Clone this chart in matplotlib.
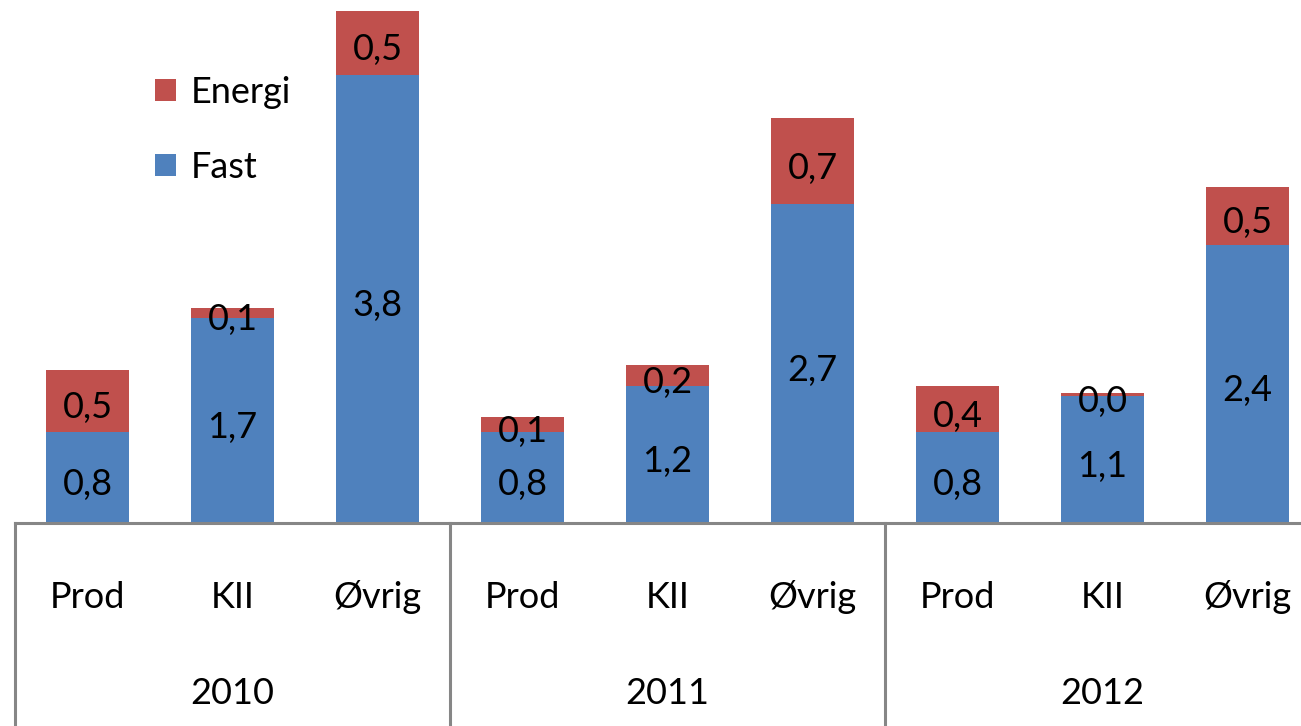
import matplotlib
matplotlib.use("Agg")
import matplotlib.pyplot as plt
import matplotlib.transforms as mtransforms
from matplotlib.patches import Patch

# ---- data ----
years = ["2010", "2011", "2012"]
categories = ["Prod", "KII", "Øvrig"]
fast = [0.77, 1.74, 3.80, 0.77, 1.16, 2.70, 0.77, 1.08, 2.36]
energi = [0.53, 0.08, 0.54, 0.13, 0.18, 0.73, 0.39, 0.025, 0.49]

blue = "#4F81BD"
red = "#C0504D"
axis_gray = "#868686"

plt.rcParams['font.family'] = ['Lato', 'DejaVu Sans']
FS = 26

W, H = 1301, 726
fig = plt.figure(figsize=(W / 100, H / 100), dpi=100)
left_px, base_px = 15, 523
ax = fig.add_axes([left_px / W, (H - base_px) / H, (W - left_px) / W, base_px / H])

slot_px = 145.0
n = len(fast)
x = list(range(n))
bw = 0.57
ax.bar(x, fast, width=bw, color=blue, zorder=2)
ax.bar(x, energi, width=bw, bottom=fast, color=red, zorder=2)

ax.set_xlim(-0.5, -0.5 + (W - left_px) / slot_px)
ax.set_ylim(0, base_px / 118.0)

def fmt(v):
    return f"{v:.1f}".replace(".", ",")

for i in range(n):
    ax.annotate(fmt(fast[i]), (x[i], fast[i] / 2), xytext=(0, -5), textcoords="offset points",
                ha="center", va="center", fontsize=FS, color="black", zorder=3)
    ax.annotate(fmt(energi[i]), (x[i], fast[i] + energi[i] / 2), xytext=(0, -5), textcoords="offset points",
                ha="center", va="center", fontsize=FS, color="black", zorder=3)

for s in ["top", "right", "left"]:
    ax.spines[s].set_visible(False)
ax.spines["bottom"].set_color(axis_gray)
ax.spines["bottom"].set_linewidth(2.2)
ax.set_xticks([])
ax.set_yticks([])

trans = mtransforms.blended_transform_factory(ax.transData, ax.transAxes)
ybottom = -(H - base_px) / base_px
for xv in [-0.5, 2.5, 5.5]:
    ax.plot([xv, xv], [0, ybottom], transform=trans, color=axis_gray, lw=2.2, clip_on=False)

ycat = -(597 - base_px) / base_px
yyear = -(693 - base_px) / base_px
for i in range(n):
    ax.text(x[i], ycat, categories[i % 3], transform=trans, ha="center", va="center", fontsize=FS)
for g, yr in enumerate(years):
    ax.text(g * 3 + 1, yyear, yr, transform=trans, ha="center", va="center", fontsize=FS)

handles = [Patch(facecolor=red, label="Energi"), Patch(facecolor=blue, label="Fast")]
fig.legend(handles=handles, loc="upper left", bbox_to_anchor=(155 / W, 1 - 76 / H),
           frameon=False, fontsize=FS, handlelength=0.58, handleheight=0.58,
           handletextpad=0.4, labelspacing=1.15, borderpad=0, borderaxespad=0)

fig.savefig("out.png", dpi=100)
